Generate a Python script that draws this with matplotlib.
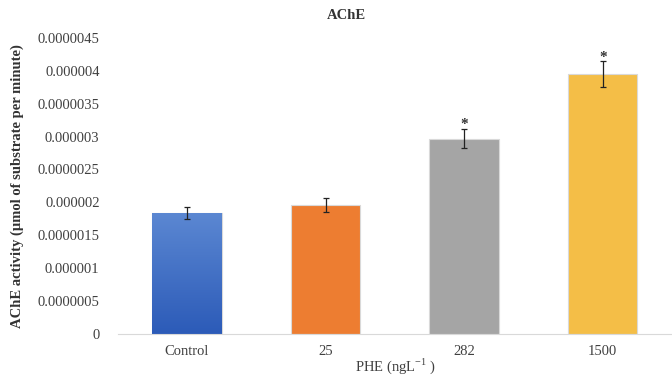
import numpy as np
import matplotlib.pyplot as plt
from matplotlib.colors import LinearSegmentedColormap

# --- Data ---
groups = ["Control", "25", "282", "1500"]
activity = [1.84e-6, 1.96e-6, 2.97e-6, 3.95e-6]
errors = [0.09e-6, 0.10e-6, 0.15e-6, 0.20e-6]
significant = [False, False, True, True]
yticks = np.arange(0, 4.6e-6, 0.5e-6)
ytick_labels = ["0", "0.0000005", "0.000001", "0.0000015", "0.000002",
                "0.0000025", "0.000003", "0.0000035", "0.000004", "0.0000045"]

colors = ["#3A6BC8", "#ED7D31", "#A5A5A5", "#F4BE47"]

plt.rcParams["font.family"] = ["Liberation Serif", "DejaVu Serif"]

fig = plt.figure(figsize=(6.72, 3.76), dpi=100)
ax = fig.add_axes([0.175, 0.112, 0.825, 0.787])

x = np.arange(len(groups))
bars = ax.bar(x, activity, width=0.5, color=colors, edgecolor="#D9D9D9", lw=0.8, zorder=2)

# vertical gradient on the control bar, like the Office default style
grad = LinearSegmentedColormap.from_list("blue", ["#2C5BB8", "#5B87D2"])
b = bars[0]
im = ax.imshow(np.linspace(0, 1, 100).reshape(-1, 1), cmap=grad, origin="lower",
               extent=[b.get_x(), b.get_x() + b.get_width(), 0, b.get_height()],
               aspect="auto", zorder=2.5)
im.set_clip_path(b)

ax.errorbar(x, activity, yerr=errors, fmt="none", ecolor="#222222", elinewidth=0.9,
            capsize=2.5, capthick=0.9, zorder=3)

for xi, v, e, s in zip(x, activity, errors, significant):
    if s:
        ax.text(xi, v + e - 0.04e-6, "*", ha="center", va="bottom", fontsize=11,
                fontweight="bold", color="#333333")

ax.set_xlim(-0.5, len(groups) - 0.5)
ax.set_ylim(0, 4.5e-6)
ax.set_yticks(yticks)
ax.set_yticklabels(ytick_labels)
ax.set_xticks(x)
ax.set_xticklabels(groups)
ax.tick_params(axis="both", length=0, labelsize=10.5, labelcolor="#404040")
ax.tick_params(axis="x", pad=8)
ax.tick_params(axis="y", pad=13)

for side in ["top", "right", "left"]:
    ax.spines[side].set_visible(False)
ax.spines["bottom"].set_color("#D9D9D9")

fig.text(0.516, 0.958, "AChE", ha="center", va="center", fontsize=10.5,
         fontweight="bold", color="#333333")
ax.set_ylabel("AChE activity (µmol of substrate per minute)", fontsize=10.5,
              fontweight="bold", color="#333333", labelpad=10)
fig.text(0.588, 0.025, "PHE (ngL$^{\\mathregular{-1}}$ )", ha="center", va="center",
         fontsize=10.5, color="#404040")

fig.savefig("out.png", dpi=100)
